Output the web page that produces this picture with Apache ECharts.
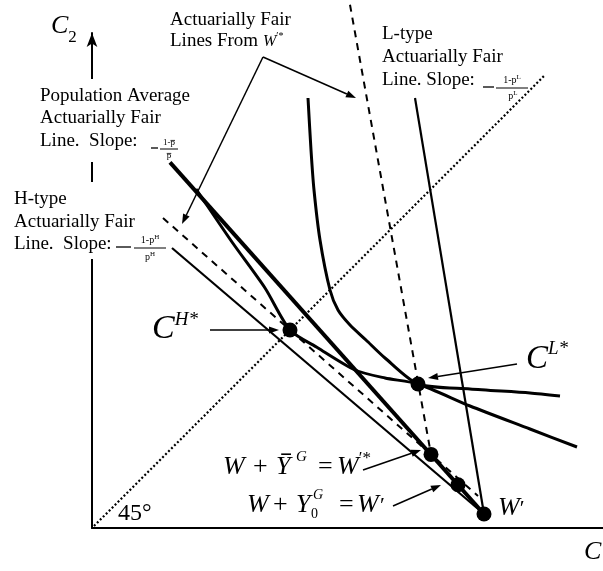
<!DOCTYPE html>
<html>
<head>
<meta charset="utf-8">
<script src="https://cdn.jsdelivr.net/npm/echarts@6/dist/echarts.min.js"></script>
<style>
  html, body { margin: 0; padding: 0; background: #fff; }
  #chart { width: 603px; height: 571px; }
</style>
</head>
<body>
<div id="chart"></div>
<script>
// Consumption plane: c1 on the horizontal axis, c2 on the vertical axis.
const endowment = [9.8, 0.35];          // W'
const endowmentStar = [8.475, 1.84];    // W'* = W + Ȳ^G
const endowmentY0 = [9.15, 1.08];       // W + Y0^G
const optimumH = [4.95, 4.95];          // C^{H*}
const optimumL = [8.15, 3.6];           // C^{L*}

const fairLinePopulation = [[1.95, 9.14], endowment];
const fairLineH = [[2.0, 7.0], endowment];
const fairLineL = [[8.075, 10.75], endowment];
const fairLineHFromStar = [[1.775, 7.75], endowmentStar, [9.65, 0.8]];
const fairLineLFromStar = [[6.45, 13.08], endowmentStar];
const diagonal45 = [[0.05, 0.05], [11.3, 11.3]];

const indifferenceH = [
  [2.6, 8.475], [3.5, 7.15], [4.325, 6.0], [4.95, 4.95], [5.65, 4.5],
  [6.575, 3.95], [7.325, 3.75], [8.15, 3.6], [9.45, 3.05], [10.95, 2.475], [12.125, 2.025]
];
const indifferenceL = [
  [5.4, 10.75], [5.475, 9.45], [5.55, 8.45], [5.7, 7.2], [5.95, 5.95], [6.15, 5.45],
  [6.45, 5.075], [6.85, 4.7], [7.325, 4.25], [8.15, 3.6], [9.45, 3.475], [10.95, 3.375], [11.7, 3.3]
];

const SERIF = '"Liberation Serif", "Times New Roman", serif';
const measureCtx = document.createElement('canvas').getContext('2d');
function fontOf(size, italic) { return (italic ? 'italic ' : '') + size + 'px ' + SERIF; }
function textWidth(font, t) { measureCtx.font = font; return measureCtx.measureText(t).width; }

// A run of text pieces on one baseline; a piece may carry its own x, a baseline shift and an overbar.
function run(x, baseline, parts) {
  const els = [];
  let cx = x;
  parts.forEach(p => {
    const size = p.size || 19;
    const font = fontOf(size, p.italic);
    const w = textWidth(font, p.t);
    const px = p.x !== undefined ? p.x : cx;
    const base = baseline + (p.dy || 0);
    els.push({
      type: 'text', z: 100, silent: true,
      style: { text: p.t, x: px, y: base - 0.32 * size, font: font, fill: '#000',
               align: 'left', verticalAlign: 'middle' }
    });
    if (p.bar) {
      els.push({ type: 'line', z: 100, silent: true,
        shape: { x1: px + size * 0.2, y1: base - size * 0.8, x2: px + w + size * 0.02, y2: base - size * 0.8 },
        style: { stroke: '#000', lineWidth: 1.6 } });
    }
    cx = px + w;
  });
  return els;
}
function rule(x1, y1, x2, y2, w) {
  return { type: 'line', z: 100, silent: true, shape: { x1, y1, x2, y2 },
           style: { stroke: '#000', lineWidth: w || 1.2 } };
}
function arrow(x1, y1, x2, y2) {
  const head = 10, half = 3.6;
  const a = Math.atan2(y2 - y1, x2 - x1);
  const bx = x2 - head * Math.cos(a), by = y2 - head * Math.sin(a);
  const nx = -Math.sin(a) * half, ny = Math.cos(a) * half;
  return [
    { type: 'line', z: 100, silent: true, shape: { x1, y1, x2: bx, y2: by },
      style: { stroke: '#000', lineWidth: 1.5 } },
    { type: 'polygon', z: 100, silent: true,
      shape: { points: [[x2, y2], [bx + nx, by + ny], [bx - nx, by - ny]] },
      style: { fill: '#000' } }
  ];
}
// small numerator / denominator pieces of the slope fractions
function barredP(prefix) {
  return (cx, base, size) => {
    const t = prefix + 'p';
    const w = textWidth(fontOf(size, false), t);
    const x0 = cx - w / 2;
    const pw = textWidth(fontOf(size, false), 'p');
    return [...run(x0, base, [{ t: t, size: size }]),
            rule(x0 + w - pw, base - size * 0.62, x0 + w, base - size * 0.62, 0.8)];
  };
}
function pType(prefix, sup) {
  return (cx, base, size) => {
    const w = textWidth(fontOf(size, false), prefix + 'p') + textWidth(fontOf(size * 0.7, false), sup);
    return run(cx - w / 2, base, [{ t: prefix + 'p', size: size }, { t: sup, size: Math.round(size * 0.7), dy: -size * 0.45 }]);
  };
}

const graphics = [
  // breaks in the vertical axis behind the text blocks
  { type: 'rect', z: 90, silent: true, shape: { x: 84, y: 79, width: 16, height: 83 }, style: { fill: '#fff' } },
  { type: 'rect', z: 90, silent: true, shape: { x: 84, y: 182, width: 16, height: 77 }, style: { fill: '#fff' } },

  // axis names
  ...run(51, 34, [{ t: 'C', size: 26, italic: true }, { t: '2', size: 17, dy: 9 }]),
  ...run(584, 560, [{ t: 'C', size: 26, italic: true }]),

  // fair lines from W'*
  ...run(170, 26, [{ t: 'Actuarially Fair' }]),
  ...run(170, 47, [{ t: 'Lines From ' }, { t: 'W', italic: true, size: 16 }, { t: '′*', size: 10, dy: -7 }]),
  ...arrow(263, 57, 356, 98),
  ...arrow(263, 57, 182, 224),

  // population average line
  ...run(40, 102, [{ t: 'Population Average' }]),
  ...run(40, 124, [{ t: 'Actuarially Fair' }]),
  ...run(40, 147, [{ t: 'Line.  Slope:' }]),
  rule(151, 148, 158, 148, 1.3),
  rule(160, 149, 178, 149, 1),
  ...barredP('1-')(169, 146, 9),
  ...barredP('')(169, 159, 9),

  // H-type line
  ...run(14, 205, [{ t: 'H-type' }]),
  ...run(14, 228, [{ t: 'Actuarially Fair' }]),
  ...run(14, 250, [{ t: 'Line.  Slope:' }]),
  rule(116, 247, 131, 247, 1.3),
  rule(134, 248, 166, 248, 1),
  ...pType('1-', 'H')(150, 244, 10),
  ...pType('', 'H')(150, 261, 10),

  // L-type line
  ...run(382, 40, [{ t: 'L-type' }]),
  ...run(382, 63, [{ t: 'Actuarially Fair' }]),
  ...run(382, 86, [{ t: 'Line. Slope:' }]),
  rule(483, 87, 494, 87, 1.3),
  rule(496, 88, 528, 88, 1),
  ...pType('1-', 'L')(512, 84, 10),
  ...pType('', 'L')(513, 100, 10),

  // optima
  ...run(152, 340, [{ t: 'C', size: 34, italic: true }, { t: 'H*', size: 19, italic: true, dy: -14 }]),
  ...arrow(210, 330, 279, 330),
  ...run(526, 370, [{ t: 'C', size: 33, italic: true }, { t: 'L*', size: 19, italic: true, dy: -15 }]),
  ...arrow(517, 364, 428, 378),

  // endowment points
  ...run(223, 475, [
    { t: 'W', size: 26, italic: true, x: 223 },
    { t: '+', size: 26, x: 253 },
    { t: 'Y', size: 26, italic: true, x: 276, bar: true },
    { t: 'G', size: 15, italic: true, x: 296, dy: -13 },
    { t: '=', size: 26, x: 318 },
    { t: 'W', size: 26, italic: true, x: 337 },
    { t: '′*', size: 17, dy: -11 }
  ]),
  ...arrow(363, 470, 421, 450),
  ...run(247, 513, [
    { t: 'W', size: 26, italic: true, x: 247 },
    { t: '+', size: 26, x: 273 },
    { t: 'Y', size: 26, italic: true, x: 296 },
    { t: '0', size: 14, x: 311, dy: 6 },
    { t: 'G', size: 14, italic: true, x: 313, dy: -13 },
    { t: '=', size: 26, x: 339 },
    { t: 'W', size: 26, italic: true, x: 357 },
    { t: '′', size: 22, x: 380 }
  ]),
  ...arrow(393, 506, 441, 485),
  ...run(498, 516, [{ t: 'W', size: 26, italic: true }, { t: '′', size: 22 }]),

  ...run(118, 521, [{ t: '45°', size: 24 }])
];

function curve(data, width, type, smooth) {
  return {
    type: 'line', data: data, showSymbol: false, symbol: 'none', clip: false, silent: true,
    smooth: smooth || false, animation: false,
    lineStyle: { color: '#000', width: width, type: type || 'solid', cap: 'butt', opacity: 1 },
    z: 3
  };
}

const chart = echarts.init(document.getElementById('chart'), null, { renderer: 'canvas' });
chart.setOption({
  animation: false,
  backgroundColor: '#fff',
  grid: { left: 92, right: 0, top: 33, bottom: 43 },
  xAxis: {
    type: 'value', min: 0, max: 12.775,
    axisLine: { show: true, onZero: false, lineStyle: { color: '#000', width: 2 } },
    axisTick: { show: false }, axisLabel: { show: false }, splitLine: { show: false }
  },
  yAxis: {
    type: 'value', min: 0, max: 12.375,
    axisLine: { show: true, onZero: false, symbol: ['none', 'arrow'], symbolSize: [8, 14],
                lineStyle: { color: '#000', width: 2 } },
    axisTick: { show: false }, axisLabel: { show: false }, splitLine: { show: false }
  },
  series: [
    curve(diagonal45, 2.2, [2, 2.2]),
    curve(fairLineH, 2.2),
    curve(fairLineL, 2.2),
    curve(fairLineHFromStar, 2, [7, 6]),
    curve(fairLineLFromStar, 2, [7, 6]),
    curve(fairLinePopulation, 4),
    curve(indifferenceH, 3, 'solid', 0.25),
    curve(indifferenceL, 3, 'solid', 0.25),
    {
      type: 'scatter', silent: true, animation: false, z: 5,
      data: [endowment, endowmentStar, endowmentY0, optimumH, optimumL],
      symbol: 'circle', symbolSize: 15,
      itemStyle: { color: '#000', opacity: 1, borderWidth: 0 }
    }
  ],
  graphic: { elements: graphics }
});
</script>
</body>
</html>
